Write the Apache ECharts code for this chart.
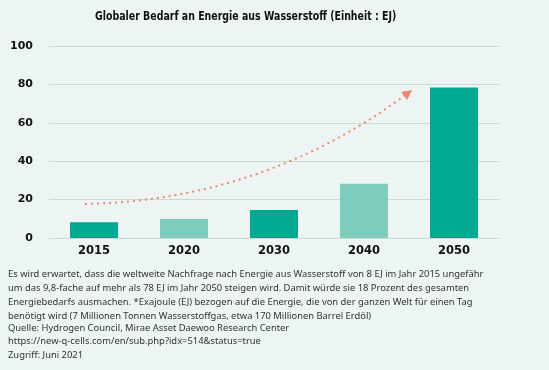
<!DOCTYPE html>
<html><head><meta charset="utf-8">
<script src="https://cdn.jsdelivr.net/npm/echarts@6/dist/echarts.min.js"></script>
<style>html,body{margin:0;padding:0;background:#ecf5f3;}#c{width:549px;height:370px;}</style>
</head><body><div id="c"></div>
<script>
const titleText = 'Globaler Bedarf an Energie aus Wasserstoff (Einheit : EJ)';
const categories = ['2015', '2020', '2030', '2040', '2050'];
const values = [8.2, 9.9, 14.6, 28.3, 78.4];
const barColors = ['#00a98f', '#7dcdbd', '#00a98f', '#7dcdbd', '#00a98f'];
const yTicks = [0, 20, 40, 60, 80, 100];
// trend arrow, in (category index, value) space
const arrowFrom = [-0.1, 17.7];
const arrowTo = [3.49, 75.5];
const footLines = [
  'Es wird erwartet, dass die weltweite Nachfrage nach Energie aus Wasserstoff von 8 EJ im Jahr 2015 ungefähr',
  'um das 9,8-fache auf mehr als 78 EJ im Jahr 2050 steigen wird. Damit würde sie 18 Prozent des gesamten',
  'Energiebedarfs ausmachen. *Exajoule (EJ) bezogen auf die Energie, die von der ganzen Welt für einen Tag',
  'benötigt wird (7 Millionen Tonnen Wasserstoffgas, etwa 170 Millionen Barrel Erdöl)'
];
const sourceLines = [
  'Quelle: Hydrogen Council, Mirae Asset Daewoo Research Center',
  'https://new-q-cells.com/en/sub.php?idx=514&status=true',
  'Zugriff: Juni 2021'
];

const chart = echarts.init(document.getElementById('c'));
const graphics = [];
footLines.forEach((t, i) => graphics.push({type: 'text', left: 8, top: 270 + i * 14,
  style: {text: t, fill: '#333', font: '9.4px "Noto Sans"'}}));
sourceLines.forEach((t, i) => graphics.push({type: 'text', left: 8, top: 324 + i * 13.3,
  style: {text: t, fill: '#333', font: '9.4px "Noto Sans"'}}));
graphics.push({type: 'text', x: 95, y: 10, scaleX: 0.725,
  style: {text: titleText, fill: '#111', font: 'bold 13px "DejaVu Sans"'}});

chart.setOption({
  backgroundColor: '#ecf5f3',
  animation: false,
  grid: {left: 49, right: 50, top: 46, bottom: 132},
  xAxis: [{type: 'category', data: categories,
    axisLine: {show: false}, axisTick: {show: false},
    axisLabel: {fontFamily: 'DejaVu Sans', fontWeight: 'bold', fontSize: 11.5, color: '#111', margin: 7}},
    {type: 'value', min: -0.5, max: 4.5, show: false}],
  yAxis: {type: 'value', min: 0, max: 100, interval: 20,
    axisLine: {show: false}, axisTick: {show: false},
    axisLabel: {fontFamily: 'DejaVu Sans', fontWeight: 'bold', fontSize: 11, color: '#111', margin: 16,
      formatter: v => yTicks.includes(v) ? String(v) : ''},
    splitLine: {lineStyle: {color: '#cfd6d4', width: 1}}},
  series: [{type: 'bar', data: values.map((v, i) => ({value: v, itemStyle: {color: barColors[i]}})),
    barWidth: 48},
    {type: 'lines', coordinateSystem: 'cartesian2d', xAxisIndex: 1, yAxisIndex: 0,
      data: [{coords: [arrowFrom, arrowTo]}],
      symbol: ['none', 'triangle'], symbolSize: 10,
      lineStyle: {color: '#f4866a', width: 2, type: [2, 4], curveness: -0.16, opacity: 1}}],
  graphic: graphics
});
</script></body></html>
